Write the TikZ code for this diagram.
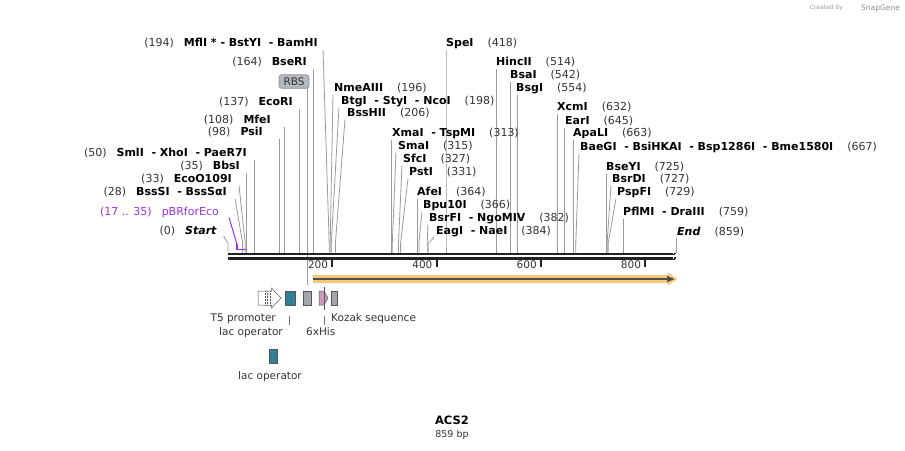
\documentclass[tikz,border=0pt]{standalone}
\usepackage{fontspec}
\setmainfont{DejaVu Sans}
\definecolor{numc}{HTML}{333333}
\definecolor{leadc}{HTML}{9A9A9A}
\definecolor{bbc}{HTML}{222222}
\definecolor{orband}{HTML}{F9C97A}
\definecolor{darkband}{HTML}{4D4D4D}
\definecolor{laccol}{HTML}{2F7F95}
\definecolor{rbscol}{HTML}{A3A6AD}
\definecolor{kozcol}{HTML}{C99BB8}
\definecolor{purp}{HTML}{9B30E8}
\definecolor{featedge}{HTML}{555555}
\newcommand\cutL[7]{%
  \node[lbl, anchor=base east] (#1) at (#2,#3+3.9) {{\color{numc}(#5)}\hspace{10pt}\textbf{#4}};
  \coordinate (#1-t) at (#6,#3+6.5);
  \coordinate (#1-k) at (#7,243);
  \coordinate (#1-s) at (#7,252.5);
  \draw[leader] (#1-t) -- (#1-k) -- (#1-s);
}
\newcommand\cutR[7]{%
  \node[lbl, anchor=base west] (#1) at (#2,#3+3.9) {\textbf{#4}\hspace{14pt}{\color{numc}(#5)}};
  \coordinate (#1-t) at (#6,#3+6.5);
  \coordinate (#1-k) at (#7,243);
  \coordinate (#1-s) at (#7,252.5);
  \draw[leader] (#1-t) -- (#1-k) -- (#1-s);
}
\begin{document}
\begin{tikzpicture}[x=1pt,y=-1pt,
  lbl/.style={inner sep=0pt, font=\fontsize{11}{12}\selectfont, text=black},
  leader/.style={draw=leadc, line width=0.8pt},
  bbline/.style={draw=bbc, line width=2.6pt},
  tick/.style={draw=bbc, line width=2pt},
  ticklbl/.style={inner sep=0pt, anchor=base east, font=\fontsize{10.5}{12}\selectfont, text=numc},
  featbox/.style={draw=featedge, line width=0.5pt},
  featlbl/.style={inner sep=0pt, font=\fontsize{10.5}{12}\selectfont, text=numc},
  featlead/.style={draw=black!55, line width=0.8pt},
]
\useasboundingbox (0,0) rectangle (905,450);

% ---------- left-side enzyme labels ----------
\cutL{bam}{318}{43}{MflI *\ -\ BstYI\ \ -\ BamHI}{194}{323}{329.2}
\cutL{bse}{307}{62}{BseRI}{164}{313.5}{313.5}
\cutL{eco}{293}{102}{EcoRI}{137}{299.4}{299.4}
\cutL{mfe}{271}{120}{MfeI}{108}{284.3}{284.3}
\cutL{psi}{263}{132}{PsiI}{98}{279.1}{279.1}
\cutL{sml}{247}{153}{SmlI\ \ -\ XhoI\ \ -\ PaeR7I}{50}{254.1}{254.1}
\cutL{bbs}{240}{166}{BbsI}{35}{246.3}{246.3}
\cutL{ecoo}{232}{179}{EcoO109I}{33}{239}{245.2}
\cutL{bsss}{227}{192}{BssSI\ \ -\ BssSαI}{28}{235}{242.6}

% Start
\node[lbl, anchor=base east] (start) at (217,231+3.9) {{\color{numc}(0)}\hspace{10pt}\textbf{\itshape Start}};
\coordinate (start-t) at (223.5,236);
\coordinate (start-k) at (228,243);
\coordinate (start-s) at (228,252.5);
\draw[leader] (start-t) -- (start-k) -- (start-s);

% pBRforEco primer
\node[lbl, anchor=base east, text=purp] (pbr) at (219,212+3.9) {(17 .. 35)\hspace{10pt}pBRforEco};
\coordinate (pbr-t) at (229,217.5);
\coordinate (pbr-k) at (236.9,244);
\coordinate (pbr-a) at (236.9,249.5);
\coordinate (pbr-b) at (246.3,249.5);
\draw[draw=purp, line width=1pt] (pbr-t) -- (pbr-k);
\draw[draw=purp, line width=1.8pt] (pbr-k) -- (pbr-a) -- (pbr-b);

% RBS label box
\node[inner sep=0pt, minimum width=30pt, minimum height=13.5pt, rounded corners=2.5pt,
      fill=rbscol!80, draw=black!45, line width=0.6pt,
      font=\fontsize{10.5}{12}\selectfont, text=numc] (rbslbl) at (294,81.5) {RBS};
\coordinate (rbs-t) at (307,88.3);
\coordinate (rbs-f) at (307,285);
\draw[leader] (rbs-t) -- (rbs-f);

% ---------- right-side enzyme labels ----------
\cutR{spe}{446}{43}{SpeI}{418}{446}{446}
\cutR{hinc}{496}{62}{HincII}{514}{496.1}{496.1}
\cutR{bsa}{510}{75}{BsaI}{542}{510.7}{510.7}
\cutR{bsg}{516}{88}{BsgI}{554}{516.9}{516.9}
\cutR{nme}{334}{88}{NmeAIII}{196}{333}{330.2}
\cutR{btg}{341}{101}{BtgI\ \ -\ StyI\ \ -\ NcoI}{198}{339}{331.3}
\cutR{bsh}{347}{113}{BssHII}{206}{345}{335.4}
\cutR{xma}{392}{133}{XmaI\ \ -\ TspMI}{313}{391.2}{391.2}
\cutR{sma}{398}{146}{SmaI}{315}{396}{392.3}
\cutR{sfc}{403}{159}{SfcI}{327}{402}{398.5}
\cutR{pst}{409}{172}{PstI}{331}{408}{400.6}
\cutR{afe}{417}{192}{AfeI}{364}{417.8}{417.8}
\cutR{bpu}{423}{205}{Bpu10I}{366}{422}{418.9}
\cutR{bsrf}{429}{218}{BsrFI\ \ -\ NgoMIV}{382}{428}{427.2}
\cutR{eag}{436}{231}{EagI\ \ -\ NaeI}{384}{434}{428.3}
\cutR{xcm}{557}{107}{XcmI}{632}{557.6}{557.6}
\cutR{ear}{565}{121}{EarI}{645}{564.4}{564.4}
\cutR{apa}{573}{133}{ApaLI}{663}{573.8}{573.8}
\cutR{bae}{580}{147}{BaeGI\ \ -\ BsiHKAI\ \ -\ Bsp1286I\ \ -\ Bme1580I}{667}{579}{575.8}
\cutR{bsey}{606}{167}{BseYI}{725}{606.1}{606.1}
\cutR{bsrd}{612}{179}{BsrDI}{727}{611}{607.1}
\cutR{pspf}{617}{192}{PspFI}{729}{616}{608.2}
\cutR{pflm}{623}{212}{PflMI\ \ -\ DraIII}{759}{623.8}{623.8}

% End
\node[lbl, anchor=base west] (endl) at (677,232+3.9) {\textbf{\itshape End}\hspace{14pt}{\color{numc}(859)}};
\coordinate (end-t) at (676,238);
\coordinate (end-s) at (676,252.5);
\draw[leader] (end-t) -- (end-s);

% ---------- backbone ----------
\coordinate (bbA1) at (228,253.8);
\coordinate (bbB1) at (676,253.8);
\coordinate (bbA2) at (228,258.4);
\coordinate (bbB2) at (676,258.4);
\draw[bbline] (bbA1) -- (bbB1);
\draw[bbline] (bbA2) -- (bbB2);
% checkered end
\foreach \cx/\cy in {672.5/252.6, 674.5/254.2, 672.5/257.2, 674.5/258.8}
  \fill[white] (\cx,\cy) rectangle ++(1.3,1.3);

% ticks
\foreach \tx/\tl in {332.3/200, 436.6/400, 540.9/600, 645.2/800}{
  \coordinate (tk\tl) at (\tx,259.5);
  \draw[tick] (tk\tl) -- ++(0,7.5);
  \node[ticklbl] (tl\tl) at (\tx-4,268.8) {\tl};
}

% ---------- features ----------
% ORF arrow
\fill[orband] (313,275) -- (668,275) -- (668,272.5) -- (677.5,279) -- (668,285.5) -- (668,283) -- (313,283) -- cycle;
\coordinate (orfA) at (313,279);
\coordinate (orfB) at (669,279);
\draw[draw=darkband, line width=2.3pt] (orfA) -- (orfB);
\fill[darkband] (667,275.8) -- (674.5,279) -- (667,282.2) -- cycle;

% T5 promoter
\draw[featbox, fill=white] (258,291) -- (271.5,291) -- (271.5,288) -- (281,298) -- (271.5,308) -- (271.5,305) -- (258,305) -- cycle;
\draw[featbox, densely dotted] (265,291) -- (265,305);
\draw[featbox, densely dotted] (267.5,291) -- (267.5,305);
\draw[featbox, densely dotted] (270,291) -- (270,305);
% lac operator
\node[featbox, fill=laccol, minimum width=10pt, minimum height=14pt, inner sep=0pt] (lac1) at (290,298) {};
% RBS
\node[featbox, fill=rbscol, minimum width=8pt, minimum height=14pt, inner sep=0pt] (rbsf) at (307,298) {};
% 6xHis
\draw[featbox, fill=kozcol] (319,291) -- (324,291) -- (328,298) -- (324,305) -- (319,305) -- cycle;
\coordinate (hisT) at (324.3,287);
\coordinate (hisB) at (324.3,309.5);
\draw[draw=black!65, line width=0.8pt] (hisT) -- (hisB);
% Kozak
\node[featbox, fill=rbscol, minimum width=6pt, minimum height=14pt, inner sep=0pt] (koz) at (334,298) {};

% feature labels
\node[featlbl, anchor=base east] (t5l) at (276,318+3.8) {T5 promoter};
\node[featlbl, anchor=base east] (lac1l) at (283,332+3.8) {lac operator};
\coordinate (lac1l-t) at (289,316);
\coordinate (lac1l-b) at (289,325);
\draw[featlead] (lac1l-t) -- (lac1l-b);
\node[featlbl, anchor=base west] (hisl) at (306,332+3.8) {6xHis};
\coordinate (hisl-t) at (324,316);
\coordinate (hisl-b) at (324,325);
\draw[featlead] (hisl-t) -- (hisl-b);
\node[featlbl, anchor=base west] (kozl) at (331,318+3.8) {Kozak sequence};

% second lac operator
\node[featbox, fill=laccol, minimum width=8pt, minimum height=14.5pt, inner sep=0pt] (lac2) at (273,356) {};
\node[featlbl, anchor=base] (lac2l) at (270,376+3.8) {lac operator};

% ---------- title ----------
\node[inner sep=0pt, font=\bfseries\fontsize{11.5}{13}\selectfont] (title) at (452,420) {ACS2};
\node[inner sep=0pt, font=\fontsize{9.5}{11}\selectfont, text=numc] (len) at (452,435) {859 bp};

% ---------- credit ----------
\node[inner sep=0pt, anchor=base east, font=\fontsize{6}{7}\selectfont, text=black!40] (cred1) at (843,9.5) {Created by};
\node[inner sep=0pt, anchor=base west, font=\fontsize{7.5}{8}\selectfont, text=black!45] (cred2) at (861,10) {SnapGene};
\end{tikzpicture}
\end{document}
